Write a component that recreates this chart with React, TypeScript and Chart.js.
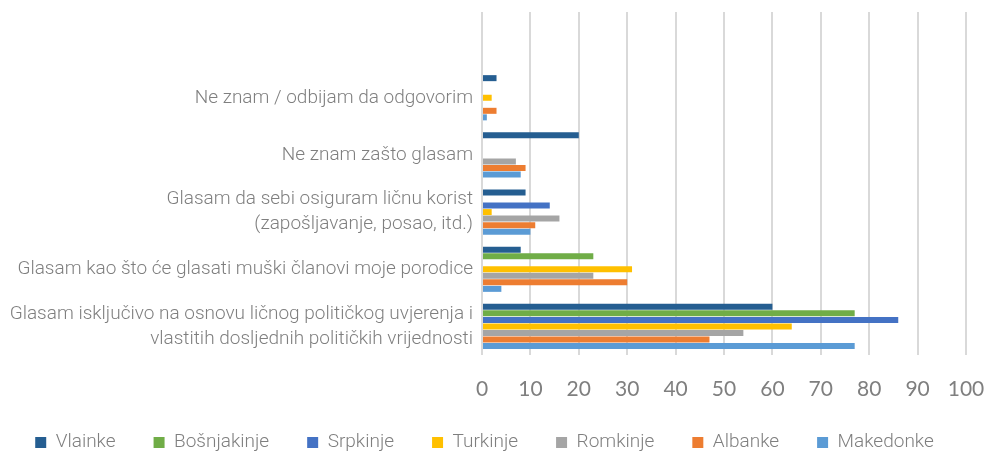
import React, { useEffect, useRef } from "react";
import { Chart, registerables } from "chart.js";

Chart.register(...registerables);

const categories: (string | string[])[] = [
  "",
  "Ne znam / odbijam da odgovorim",
  "Ne znam zašto glasam",
  ["Glasam da sebi osiguram ličnu korist", "(zapošljavanje, posao, itd.)"],
  "Glasam kao što će glasati muški članovi moje porodice",
  ["Glasam isključivo na osnovu ličnog političkog uvjerenja i", "vlastitih dosljednih političkih vrijednosti"],
];

const seriesNames = ["Vlainke", "Bošnjakinje", "Srpkinje", "Turkinje", "Romkinje", "Albanke", "Makedonke"];
const seriesColors = ["#255e91", "#70ad47", "#4472c4", "#ffc000", "#a5a5a5", "#ed7d31", "#5b9bd5"];

const vlainke = [null, 3, 20, 9, 8, 60];
const bosnjakinje = [null, 0, 0, 0, 23, 77];
const srpkinje = [null, 0, 0, 14, 0, 86];
const turkinje = [null, 2, 0, 2, 31, 64];
const romkinje = [null, 0, 7, 16, 23, 54];
const albanke = [null, 3, 9, 11, 30, 47];
const makedonke = [null, 1, 8, 10, 4, 77];

const seriesValues = [vlainke, bosnjakinje, srpkinje, turkinje, romkinje, albanke, makedonke];

const xTicks = [0, 10, 20, 30, 40, 50, 60, 70, 80, 90, 100];

const legendFit = {
  id: "legendFit",
  beforeLayout(chart: any) {
    const lg = chart.legend;
    if (lg && !lg._patched) {
      const orig = lg.fit.bind(lg);
      lg.fit = function () {
        const mw = this.maxWidth;
        this.maxWidth = 5000;
        orig();
        this.maxWidth = mw;
        this.width = mw;
        this.height = 50;
      };
      lg._patched = true;
    }
  },
  afterLayout(chart: any) {
    const lg = chart.legend;
    if (lg) {
      lg.top -= 7;
      lg.left -= 9;
      lg.right -= 9;
    }
  },
};

export default function App() {
  const ref = useRef<HTMLCanvasElement | null>(null);
  useEffect(() => {
    if (!ref.current) return;
    const chart = new Chart(ref.current, {
      type: "bar",
      data: {
        labels: categories,
        datasets: seriesNames.map((name, i) => ({
          label: name,
          data: seriesValues[i],
          backgroundColor: seriesColors[i],
          borderWidth: 0,
          barPercentage: 0.92,
          categoryPercentage: 0.8,
        })),
      },
      options: {
        indexAxis: "y",
        animation: false,
        responsive: true,
        maintainAspectRatio: false,
        layout: { padding: { top: 12, right: 0, bottom: 0, left: 0 } },
        scales: {
          x: {
            min: 0,
            max: 100,
            afterBuildTicks: (scale: any) => {
              scale.ticks = xTicks.map((v) => ({ value: v }));
            },
            afterFit: (scale: any) => {
              scale.height = 47;
              scale.paddingRight = 21;
              scale.paddingLeft = 0;
            },
            grid: { color: "#d9d9d9", lineWidth: 2, drawTicks: false },
            border: { display: false },
            ticks: {
              color: "#7f7f7f",
              font: { family: "Lato", size: 21 },
              padding: 22,
            },
          },
          y: {
            grid: { display: false, drawTicks: false },
            border: { display: false },
            afterFit: (scale: any) => {
              scale.width = 482;
              scale.paddingTop = 0;
              scale.paddingBottom = 0;
            },
            ticks: {
              color: "#7f7f7f",
              font: { family: "Roboto", size: 19, weight: "300", lineHeight: 1.3 },
              padding: 9,
              autoSkip: false,
            },
          },
        },
        plugins: {
          legend: {
            position: "bottom",
            labels: {
              boxWidth: 11,
              boxHeight: 11,
              color: "#7f7f7f",
              font: { family: "Roboto", size: 19, weight: "300" },
              padding: 38,
            },
          },
          tooltip: { enabled: false },
        },
      },
      plugins: [legendFit],
    });
    return () => chart.destroy();
  }, []);
  return (
    <div style={{ position: "absolute", left: 0, top: 0, width: 987, height: 452 }}>
      <canvas ref={ref} />
    </div>
  );
}
